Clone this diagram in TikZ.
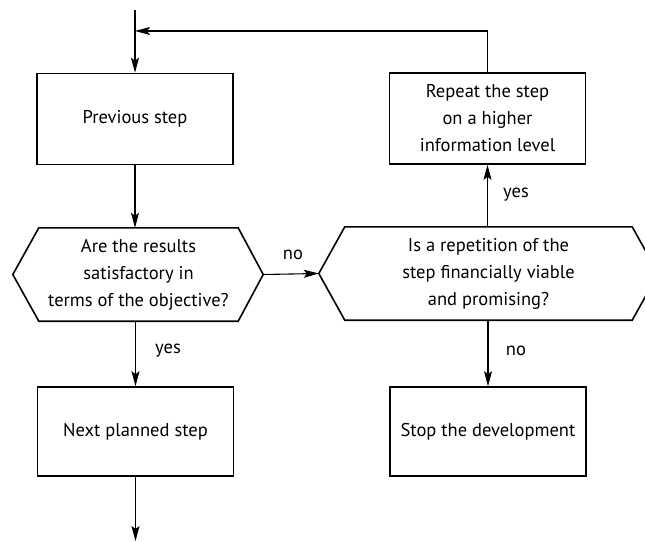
\documentclass[tikz,border=0pt]{standalone}
\usepackage{fontspec}
\setmainfont{PT Sans}
\usetikzlibrary{arrows.meta,calc}
\begin{document}
\begin{tikzpicture}[x=1pt,y=-1pt,
  font=\fontsize{18.5}{27}\selectfont,
  boxnode/.style={draw,line width=1.6pt,minimum width=196pt,minimum height=91pt,align=center,inner sep=0pt},
  hexnode/.style={draw=none,minimum height=93pt,align=center,inner sep=0pt},
  hexline/.style={line width=1.6pt,line join=miter},
  conn/.style={line width=1.1pt,-{Stealth[length=15pt,width=8pt,inset=3pt]}},
  plain/.style={line width=1.1pt},
  lbl/.style={inner sep=0pt}]
\useasboundingbox (0,0) rectangle (645,541);
\clip (0,0) rectangle (645,541);
\node[boxnode] (prev) at (135,119) {Previous step};
\node[boxnode] (rep) at (487.5,118.5) {Repeat the step\\on a higher\\information level};
\node[boxnode,minimum height=89pt] (next) at (135.5,431.5) {Next planned step};
\node[boxnode,minimum height=89pt] (stop) at (488,431.5) {Stop the development};
\node[hexnode,minimum width=199pt] (q1) at (138.5,274.5) {Are the results\\satisfactory in\\terms of the objective?};
\node[hexnode,minimum width=287pt] (q2) at (488.5,273.5) {Is a repetition of the\\step financially viable\\and promising?};
\coordinate (q1l) at ($(q1.west)+(-26pt,0)$);
\coordinate (q1r) at ($(q1.east)+(25pt,0)$);
\coordinate (q2l) at ($(q2.west)+(-26pt,0)$);
\coordinate (q2r) at ($(q2.east)+(26pt,0)$);
\draw[hexline] (q1.north west) -- (q1.north east) -- (q1r) -- (q1.south east) -- (q1.south west) -- (q1l) -- cycle;
\draw[hexline] (q2.north west) -- (q2.north east) -- (q2r) -- (q2.south east) -- (q2.south west) -- (q2l) -- cycle;
\coordinate (top) at (prev.north |- 0,10);
\coordinate (bend) at (rep.north |- 0,31);
\coordinate (join) at (prev.north |- 0,31);
\coordinate (bottom) at (next.south |- 0,541);
\draw[conn] (top) -- (prev.north);
\draw[plain] (rep.north) -- (bend);
\draw[conn] (bend) -- (join);
\draw[conn] (prev.south) -- (q1.north -| prev.south);
\draw[conn] (q1.south -| next.north) -- (next.north);
\draw[conn] (q1r) -- (q2l);
\draw[conn] (q2.north -| rep.south) -- (rep.south);
\draw[conn] (q2.south -| stop.north) -- (stop.north);
\draw[conn] (next.south) -- (bottom);
\node[lbl] (l1) at (293,255) {no};
\node[lbl] (l2) at (516,195) {yes};
\node[lbl] (l3) at (168,351) {yes};
\node[lbl] (l4) at (516,351) {no};
\end{tikzpicture}
\end{document}
